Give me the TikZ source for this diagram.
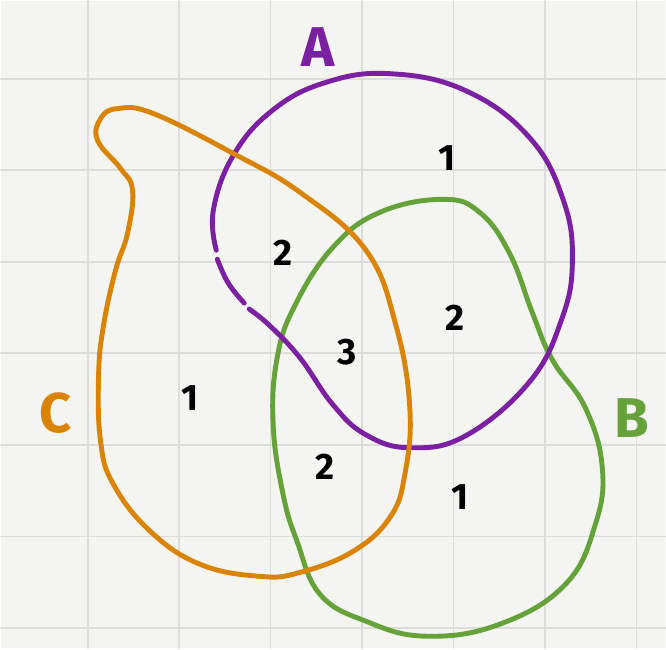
\documentclass[tikz,border=0pt]{standalone}
\usepackage{fontspec}
\setsansfont{Fira Sans}
\definecolor{papel}{RGB}{244,244,240}
\definecolor{rejilla}{RGB}{220,220,217}
\definecolor{morado}{RGB}{122,32,160}
\definecolor{verde}{RGB}{102,162,58}
\definecolor{naranja}{RGB}{218,132,6}

\begin{document}
\begin{tikzpicture}[x=0.02cm,y=-0.02cm,line cap=round,line join=round,
  conjunto/.style={line width=2.8pt},
  cifra/.style={font=\sffamily\bfseries\fontsize{21}{21}\selectfont},
  letra/.style={font=\sffamily\bfseries\fontsize{32}{32}\selectfont}]
  % papel
  \fill[papel] (0,0) rectangle (666,649);
  \foreach \k in {0,...,6} \draw[rejilla,line width=1pt] ({87+91.7*\k},0)--({87+91.7*\k},649);
  \foreach \k in {0,...,6} \draw[rejilla,line width=1pt] (0,{78+91.8*\k})--(666,{78+91.8*\k});
  % conjunto B
  \draw[conjunto,verde] plot[smooth cycle,tension=0.7] coordinates {(443,199) (480,212) (510,253)
    (533,313) (553,360) (586,408) (603,468) (596,525) (566,585) (500,625) (426,637) (366,622)
    (320,595) (297,542) (283,495) (273,425) (277,358) (295,305) (333,247) (380,212)};
  % conjunto A
  \draw[conjunto,morado] plot[smooth,tension=0.7] coordinates {(216,250) (213,210) (233,155) (272,110)
    (325,82) (390,73) (466,90) (530,137) (564,200) (573,262) (562,320) (530,382)
    (466,436) (410,448) (366,435) (333,405) (300,358) (270,326) (249,309)};
  \draw[conjunto,morado] plot[smooth,tension=0.7] coordinates {(244,303) (228,283) (217,259)};
  % conjunto C
  \draw[conjunto,naranja] plot[smooth cycle,tension=0.7] coordinates {(117,108) (153,113) (233,153)
    (300,192) (366,250) (396,325) (410,408) (405,475) (390,518) (353,552) (300,573) (260,577)
    (200,565) (150,532) (113,485) (100,442) (98,375) (103,325) (115,270) (127,233) (132,190)
    (120,168) (97,140) (100,118)};
  % etiquetas
  \node[letra,morado] (labA) at (318,46) {A};
  \node[letra,verde] (labB) at (633,418) {B};
  \node[letra,naranja] (labC) at (55,413) {C};
  % cuentas
  \node[cifra] (nA) at (447,158) {1};
  \node[cifra] (nAC) at (283,253) {2};
  \node[cifra] (nAB) at (455,318) {2};
  \node[cifra] (nABC) at (347,352) {3};
  \node[cifra] (nC) at (190,398) {1};
  \node[cifra] (nBC) at (325,467) {2};
  \node[cifra] (nB) at (460,497) {1};
\end{tikzpicture}
\end{document}
